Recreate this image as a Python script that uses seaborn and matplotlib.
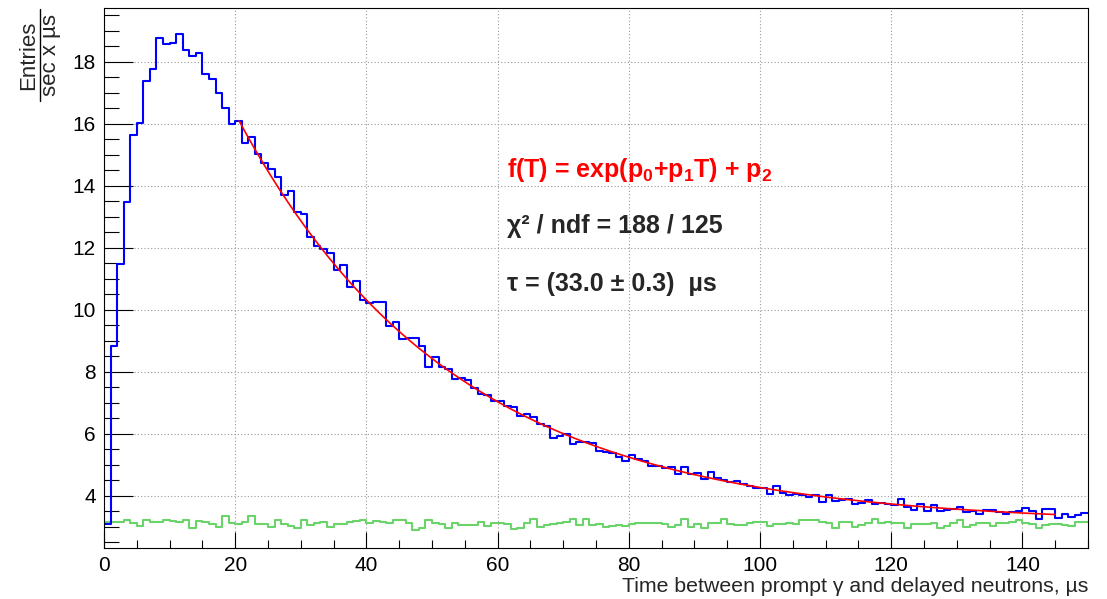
import numpy as np
import pandas as pd
import seaborn as sns
import matplotlib.pyplot as plt
from matplotlib.lines import Line2D
from matplotlib.ticker import MultipleLocator

# histogram contents, 1 us bins from 0 to 150
blue = [3.11, 8.85, 11.49, 13.48, 15.63, 16.03, 17.39, 17.77, 18.76, 18.59,
        18.61, 18.89, 18.38, 18.19, 18.30, 17.61, 17.46, 17.01, 16.50, 16.01,
        16.08, 15.40, 15.57, 15.02, 14.73, 14.56, 14.30, 13.70, 13.83, 13.16,
        13.08, 12.35, 12.05, 11.95, 11.84, 11.30, 11.44, 10.75, 10.94, 10.32,
        10.21, 10.24, 10.27, 9.48, 9.61, 9.05, 9.09, 9.09, 8.84, 8.15,
        8.49, 8.15, 8.09, 7.77, 7.82, 7.75, 7.47, 7.29, 7.24, 7.06,
        7.05, 6.89, 6.87, 6.57, 6.63, 6.53, 6.32, 6.26, 5.86, 5.92,
        5.99, 5.68, 5.75, 5.73, 5.72, 5.45, 5.43, 5.39, 5.26, 5.14,
        5.32, 5.18, 5.14, 4.97, 4.96, 4.89, 4.94, 4.70, 4.92, 4.70,
        4.75, 4.53, 4.78, 4.59, 4.51, 4.45, 4.48, 4.40, 4.31, 4.26,
        4.26, 4.07, 4.33, 4.09, 4.03, 4.07, 4.02, 3.96, 4.02, 3.82,
        4.02, 3.83, 3.87, 3.91, 3.74, 3.78, 3.87, 3.74, 3.76, 3.74,
        3.70, 3.89, 3.65, 3.54, 3.74, 3.50, 3.70, 3.52, 3.54, 3.57,
        3.63, 3.48, 3.52, 3.43, 3.54, 3.54, 3.47, 3.43, 3.47, 3.52,
        3.61, 3.52, 3.24, 3.58, 3.57, 3.30, 3.41, 3.33, 3.39, 3.45]

green = [3.17, 3.17, 3.17, 3.21, 3.14, 3.02, 3.21, 3.17, 3.15, 3.23,
         3.20, 3.17, 3.21, 2.96, 3.20, 3.17, 3.09, 3.01, 3.34, 3.14,
         3.10, 3.17, 3.34, 3.10, 3.09, 2.99, 3.23, 3.08, 3.03, 2.97,
         3.23, 3.07, 3.12, 3.16, 2.99, 3.10, 3.10, 3.15, 3.18, 3.23,
         3.12, 3.20, 3.17, 3.14, 3.21, 3.21, 3.12, 2.91, 2.97, 3.23,
         3.12, 3.09, 2.96, 3.14, 3.05, 3.07, 3.07, 3.17, 3.02, 3.14,
         3.14, 3.10, 2.92, 2.97, 3.12, 3.25, 3.01, 3.05, 3.10, 3.14,
         3.16, 3.25, 3.05, 3.25, 3.05, 3.10, 3.01, 3.03, 3.07, 3.03,
         3.10, 3.12, 3.14, 3.12, 3.14, 3.10, 2.99, 3.07, 3.25, 3.01,
         3.10, 2.95, 3.12, 3.14, 3.25, 3.10, 3.07, 3.05, 3.14, 3.16,
         3.16, 3.03, 3.10, 3.10, 3.14, 3.10, 3.21, 3.21, 3.21, 3.16,
         3.14, 2.95, 3.16, 3.16, 3.01, 3.05, 3.14, 3.25, 3.12, 3.16,
         3.14, 3.12, 2.98, 3.10, 3.10, 3.10, 3.12, 2.97, 3.03, 3.12,
         3.23, 3.01, 3.07, 3.12, 3.14, 3.03, 3.12, 3.14, 3.17, 3.23,
         3.14, 3.08, 2.95, 3.05, 3.08, 3.08, 3.05, 3.03, 3.16, 3.16]

# fit f(T) = exp(p0 + p1*T) + p2
p0, p1, p2 = 3.189, -1 / 33.0, 3.10
fit_lo, fit_hi = 20.6, 145.0

edges = list(range(0, 151))
centers = [e + 0.5 for e in edges[:-1]]
df = pd.DataFrame({'t': centers, 'blue': blue, 'green': green})

sns.set_style('white')
plt.rcParams['font.family'] = ['Liberation Sans', 'DejaVu Sans']
plt.rcParams['mathtext.fontset'] = 'custom'
plt.rcParams['mathtext.rm'] = 'Liberation Sans'
plt.rcParams['mathtext.bf'] = 'Liberation Sans:bold'

fig = plt.figure(figsize=(11.07, 5.99), dpi=100)
ax = fig.add_axes([104 / 1107, 1 - 548 / 599, 984 / 1107, 540 / 599])

sns.histplot(data=df, x='t', weights='green', bins=edges, element='step', fill=False,
             color='#6ad46a', linewidth=1.5, ax=ax)
sns.histplot(data=df, x='t', weights='blue', bins=edges, element='step', fill=False,
             color='#0000ff', linewidth=1.5, ax=ax)

tf = np.linspace(fit_lo, fit_hi, 300)
sns.lineplot(x=tf, y=np.exp(p0 + p1 * tf) + p2, color='#ff0000', linewidth=1.2, ax=ax)

ax.set_xlim(0, 150)
ax.set_ylim(2.32, 19.74)
ax.xaxis.set_major_locator(MultipleLocator(20))
ax.xaxis.set_minor_locator(MultipleLocator(5))
ax.yaxis.set_major_locator(MultipleLocator(2))
ax.yaxis.set_minor_locator(MultipleLocator(0.5))
ax.grid(True, which='major', linestyle=(0, (1, 2)), color='#999999', linewidth=0.8)
ax.tick_params(axis='both', which='both', direction='in', labelsize=15,
               colors='black', bottom=True, left=True, top=False, right=False, width=0.8)
ax.tick_params(axis='x', which='major', length=11.5, pad=6)
ax.tick_params(axis='x', which='minor', length=5.8)
ax.tick_params(axis='y', which='major', length=21, pad=6)
ax.tick_params(axis='y', which='minor', length=10.8)
for s in ax.spines.values():
    s.set_color('black')
    s.set_linewidth(0.8)
ax.set_ylabel('')
ax.set_xlabel('Time between prompt \u03b3 and delayed neutrons, \u00b5s', fontsize=15.3,
              loc='right', labelpad=1)

# y title as a fraction
fig.text(39 / 1107, 1 - 55 / 599, 'Entries', rotation=90, ha='right', va='center', fontsize=16)
fig.text(40 / 1107, 1 - 55 / 599, 'sec x \u00b5s', rotation=90, ha='left', va='center', fontsize=16)
fig.add_artist(Line2D([39.5 / 1107, 39.5 / 1107], [1 - 9 / 599, 1 - 101 / 599],
                      transform=fig.transFigure, color='black', linewidth=1))

fig.text(507 / 1107, 1 - 170 / 599,
         r'f(T) = exp(p$_\mathbf{0}$+p$_\mathbf{1}$T) + p$_\mathbf{2}$',
         color='#ff0000', fontsize=18, fontweight='bold', va='center')
fig.text(507 / 1107, 1 - 226 / 599, '\u03c7\u00b2 / ndf = 188 / 125',
         fontsize=18, fontweight='bold', va='center')
fig.text(507 / 1107, 1 - 284 / 599, '\u03c4 = (33.0 \u00b1 0.3)  \u00b5s',
         fontsize=18, fontweight='bold', va='center')

fig.savefig('out.png', dpi=100)
